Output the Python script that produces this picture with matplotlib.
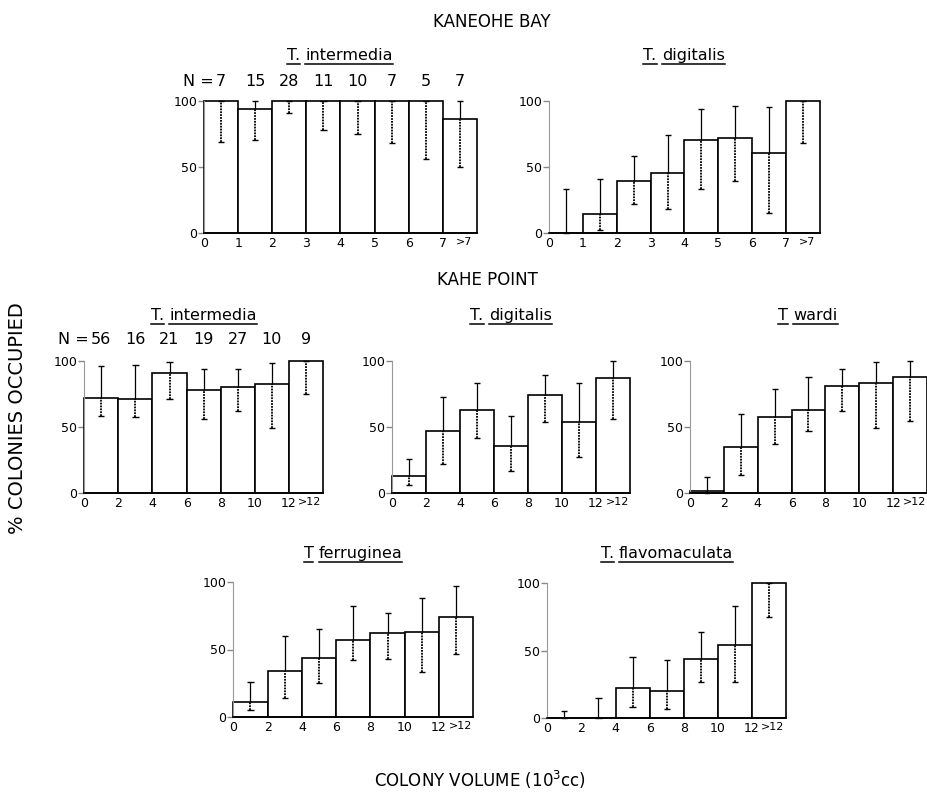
import numpy as np
import matplotlib
matplotlib.use("Agg")
import matplotlib.pyplot as plt
from matplotlib.lines import Line2D

W, H = 928, 793

# Kaneohe Bay (bins of 1000 cc)
kb_labels = ["0", "1", "2", "3", "4", "5", "6", "7"]
kb_last = ">7"
kb_int_n = [7, 15, 28, 11, 10, 7, 5, 7]
kb_int_pct = [100, 94, 100, 100, 100, 100, 100, 86]
kb_int_lo = [69, 70, 91, 78, 75, 68, 56, 50]
kb_int_hi = [100, 100, 100, 100, 100, 100, 100, 100]

kb_dig_pct = [0, 14, 39, 45, 70, 72, 60, 100]
kb_dig_lo = [0, 2, 22, 18, 33, 39, 15, 68]
kb_dig_hi = [33, 41, 58, 74, 94, 96, 95, 100]

# Kahe Point (bins of 2000 cc)
kp_labels = ["0", "2", "4", "6", "8", "10", "12"]
kp_last = ">12"
kp_int_n = [56, 16, 21, 19, 27, 10, 9]
kp_int_pct = [72, 71, 91, 78, 80, 82, 100]
kp_int_lo = [58, 57, 71, 56, 62, 49, 75]
kp_int_hi = [96, 97, 99, 94, 94, 98, 100]

kp_dig_pct = [13, 47, 63, 36, 74, 54, 87]
kp_dig_lo = [6, 22, 42, 17, 54, 27, 56]
kp_dig_hi = [26, 73, 83, 58, 89, 83, 100]

kp_war_pct = [2, 35, 58, 63, 81, 83, 88]
kp_war_lo = [0, 14, 37, 47, 62, 49, 55]
kp_war_hi = [12, 60, 79, 88, 94, 99, 100]

kp_fer_pct = [11, 34, 44, 57, 62, 63, 74]
kp_fer_lo = [5, 14, 25, 42, 43, 33, 47]
kp_fer_hi = [26, 60, 65, 82, 77, 88, 97]

kp_fla_pct = [0, 0, 22, 20, 44, 54, 100]
kp_fla_lo = [0, 0, 8, 7, 27, 27, 75]
kp_fla_hi = [5, 15, 45, 43, 64, 83, 100]

fig = plt.figure(figsize=(W / 100, H / 100), dpi=100)
fig.patch.set_facecolor("white")
rend = fig.canvas.get_renderer()


def fx(px):
    return px / W


def fy(py):
    return 1 - py / H


def panel(box, pct, lo, hi, labels, last):
    l, t, r, b = box
    ax = fig.add_axes([fx(l), fy(b), (r - l) / W, (b - t) / H])
    n = len(pct)
    x = np.arange(n)
    pct = np.array(pct, float)
    lo = np.array(lo, float)
    hi = np.array(hi, float)
    ax.bar(x, pct, width=1, align="edge", facecolor="white",
           edgecolor="black", linewidth=1.2, clip_on=False, zorder=2)
    c = x + 0.5
    # error bars: upper part solid, part inside the bar dotted as in the print
    ax.vlines(c, pct, hi, colors="black", lw=0.9, zorder=3, clip_on=False)
    ax.vlines(c, lo, pct, colors="black", lw=1.3,
              linestyles=(0, (1, 0.6)), zorder=3, clip_on=False)
    ax.hlines(hi, c - 0.09, c + 0.09, colors="black", lw=1.0, zorder=3, clip_on=False)
    ax.hlines(lo, c - 0.09, c + 0.09, colors="black", lw=1.0, zorder=3, clip_on=False)
    ax.set_xlim(0, n)
    ax.set_ylim(0, 100)
    ax.set_xticks(list(range(n)) + [n - 0.38])
    ax.set_xticklabels(labels + [last])
    ax.set_yticks([0, 50, 100])
    ax.set_yticklabels(["0", "50", "100"])
    ax.tick_params(axis="x", length=0, pad=3, labelsize=9)
    ax.get_xticklabels()[-1].set_fontsize(8)
    ax.tick_params(axis="y", length=4, width=1, color="#888888", pad=1, labelsize=9)
    for s in ["top", "right"]:
        ax.spines[s].set_visible(False)
    ax.spines["left"].set_color("#999999")
    ax.spines["bottom"].set_color("black")
    ax.spines["bottom"].set_linewidth(1.2)
    ax.set_facecolor("none")
    return ax


def title(cx, base, words, size=11.5):
    texts = [fig.text(0, fy(base), w, fontsize=size, va="baseline", ha="left")
             for w in words]
    widths = [t.get_window_extent(rend).width for t in texts]
    gap = size * 0.45
    x0 = cx - (sum(widths) + gap * (len(words) - 1)) / 2
    for t, w in zip(texts, widths):
        t.set_x(fx(x0))
        fig.add_artist(Line2D([fx(x0), fx(x0 + w)], [fy(base + 3.5)] * 2,
                              transform=fig.transFigure, color="black", lw=1.1))
        x0 += w + gap


def n_row(ax, counts, ypx):
    for i, v in enumerate(counts):
        xd = ax.transData.transform((i + 0.5, 0))[0]
        fig.text(fx(xd), fy(ypx), str(v), fontsize=11.5, ha="center", va="center")
    xd = ax.transData.transform((0.5, 0))[0]
    tmp = fig.text(0, 0, str(counts[0]), fontsize=11.5)
    wnum = tmp.get_window_extent(rend).width
    tmp.remove()
    fig.text(fx(xd - wnum / 2 - 2), fy(ypx), "N =", fontsize=11.5, ha="right", va="center")


boxes = {
    "kb_int": (204, 100.7, 477, 232.7),
    "kb_dig": (549, 100.7, 820, 232.7),
    "kp_int": (84.3, 360.7, 323, 492.7),
    "kp_dig": (392.3, 360.7, 630, 493.3),
    "kp_war": (690, 361, 927, 493.3),
    "kp_fer": (233.3, 582.3, 473.3, 716.7),
    "kp_fla": (547.3, 583.3, 786, 718),
}

a1 = panel(boxes["kb_int"], kb_int_pct, kb_int_lo, kb_int_hi, kb_labels, kb_last)
a2 = panel(boxes["kb_dig"], kb_dig_pct, kb_dig_lo, kb_dig_hi, kb_labels, kb_last)
a3 = panel(boxes["kp_int"], kp_int_pct, kp_int_lo, kp_int_hi, kp_labels, kp_last)
a4 = panel(boxes["kp_dig"], kp_dig_pct, kp_dig_lo, kp_dig_hi, kp_labels, kp_last)
a5 = panel(boxes["kp_war"], kp_war_pct, kp_war_lo, kp_war_hi, kp_labels, kp_last)
a6 = panel(boxes["kp_fer"], kp_fer_pct, kp_fer_lo, kp_fer_hi, kp_labels, kp_last)
a7 = panel(boxes["kp_fla"], kp_fla_pct, kp_fla_lo, kp_fla_hi, kp_labels, kp_last)

n_row(a1, kb_int_n, 82)
n_row(a3, kp_int_n, 340)

title(340, 60, ["T.", "intermedia"])
title(684, 60, ["T.", "digitalis"])
title(204, 320, ["T.", "intermedia"])
title(511, 320, ["T.", "digitalis"])
title(808, 320, ["T", "wardi"])
title(353, 558, ["T", "ferruginea"])
title(667, 558, ["T.", "flavomaculata"])

fig.text(fx(492), fy(22), "KANEOHE BAY", fontsize=12, ha="center", va="center")
fig.text(fx(487), fy(280), "KAHE POINT", fontsize=12, ha="center", va="center")
fig.text(fx(18), fy(418), "% COLONIES OCCUPIED", fontsize=14, rotation=90,
         ha="center", va="center")
fig.text(fx(480), fy(780), "COLONY VOLUME (10$^3$cc)", fontsize=12,
         ha="center", va="center")

fig.savefig("out.png", dpi=100, facecolor="white")
